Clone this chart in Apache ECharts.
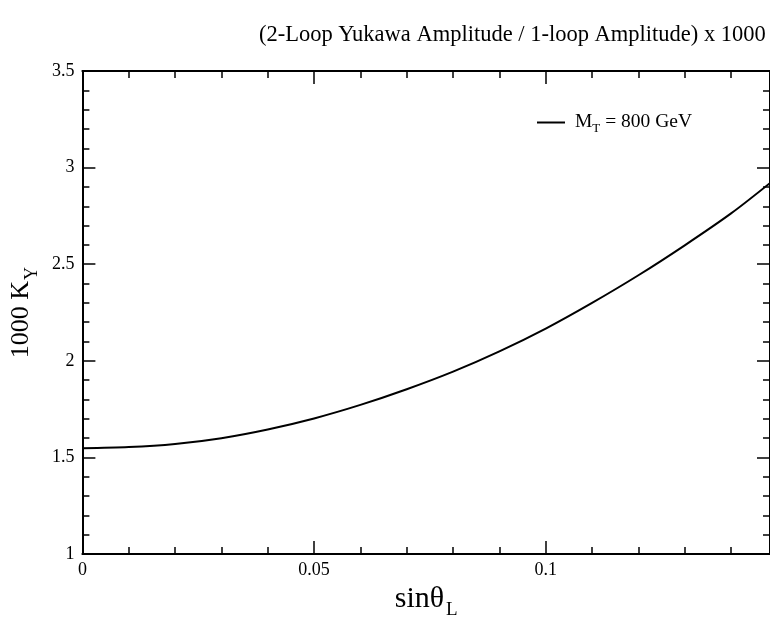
<!DOCTYPE html>
<html>
<head>
<meta charset="utf-8">
<script src="https://cdn.jsdelivr.net/npm/echarts@6/dist/echarts.min.js"></script>
<style>html,body{margin:0;padding:0;background:#fff}#c{width:770px;height:625px}</style>
</head>
<body>
<div id="c"></div>
<script>
// ---- data ----
const xValues = [0, 0.01, 0.02, 0.03, 0.04, 0.05, 0.06, 0.07, 0.08, 0.09, 0.10, 0.11, 0.12, 0.13, 0.14, 0.1485];
const yValues = [1.548, 1.554, 1.570, 1.600, 1.645, 1.702, 1.772, 1.853, 1.944, 2.049, 2.167, 2.300, 2.443, 2.598, 2.763, 2.922];
const xTickLabels = [0, 0.05, 0.1];
const yTickLabels = [1, 1.5, 2, 2.5, 3, 3.5];
const titleText = '(2-Loop Yukawa Amplitude / 1-loop Amplitude) x 1000';
const seriesName = 'MT800';

const XMIN = 0, XMAX = 0.1484, YMIN = 1, YMAX = 3.5;
const FONT = '"Liberation Serif", "DejaVu Serif", serif';

const chart = echarts.init(document.getElementById('c'), null, {renderer: 'canvas'});

function fmt(list) {
  return v => { const t = list.find(k => Math.abs(k - v) < 1e-9); return t === undefined ? '' : String(t); };
}

function xAx(pos, major, labels, name) {
  const a = {
    type: 'value', gridIndex: 0, position: pos, min: XMIN, max: XMAX,
    interval: major ? 0.05 : 0.01,
    axisLine: {show: major, onZero: false, lineStyle: {color: '#000', width: 2}},
    axisTick: {show: true, inside: true, length: major ? 13 : 7, lineStyle: {color: '#000', width: 1.5}},
    axisLabel: {show: labels, color: '#000', fontFamily: FONT, fontSize: 18, margin: 7, showMaxLabel: false,
      formatter: fmt(xTickLabels)},
    splitLine: {show: false}
  };
  if (name) {
    a.name = '{a|sin\u03b8}{s|L}';
    a.nameLocation = 'middle';
    a.nameGap = 29;
    a.nameTextStyle = {rich: {
      a: {fontFamily: FONT, fontSize: 30, color: '#000', lineHeight: 32, verticalAlign: 'top'},
      s: {fontFamily: FONT, fontSize: 19, color: '#000', lineHeight: 20, padding: [17, 0, 0, 2], verticalAlign: 'top'}
    }};
  }
  return a;
}

function yAx(pos, major, labels, name) {
  const a = {
    type: 'value', gridIndex: 0, position: pos, min: YMIN, max: YMAX,
    interval: major ? 0.5 : 0.1,
    axisLine: {show: major, onZero: false, lineStyle: {color: '#000', width: 2}},
    axisTick: {show: true, inside: true, length: major ? 13 : 7, lineStyle: {color: '#000', width: 1.5}},
    axisLabel: {show: labels, color: '#000', fontFamily: FONT, fontSize: 18, margin: 8,
      formatter: fmt(yTickLabels)},
    splitLine: {show: false}
  };
  if (name) {
    a.name = '{a|1000 K}{s|Y}';
    a.nameLocation = 'middle';
    a.nameRotate = 90;
    a.nameGap = 42;
    a.nameTextStyle = {rich: {
      a: {fontFamily: FONT, fontSize: 26, color: '#000', lineHeight: 30, verticalAlign: 'top'},
      s: {fontFamily: FONT, fontSize: 18, color: '#000', lineHeight: 20, padding: [15, 0, 0, 1], verticalAlign: 'top'}
    }};
  }
  return a;
}

const option = {
  backgroundColor: '#fff',
  animation: false,
  title: {
    text: titleText, left: 254, top: 19,
    textStyle: {fontFamily: FONT, fontSize: 22.5, fontWeight: 'normal', color: '#000'}
  },
  grid: {left: 80, top: 71, width: 691, height: 484},
  legend: {
    left: 537, top: 111.5, padding: 0, itemWidth: 28, itemHeight: 2, itemGap: 10,
    icon: 'rect',
    data: [{name: seriesName}],
    formatter: () => '{m|M}{s|T}{a| = 800 GeV}',
    textStyle: {rich: {
      m: {fontFamily: FONT, fontSize: 19.5, color: '#000', lineHeight: 22, padding: [0, 0, 0, 5], verticalAlign: 'top'},
      a: {fontFamily: FONT, fontSize: 19.5, color: '#000', lineHeight: 22, verticalAlign: 'top'},
      s: {fontFamily: FONT, fontSize: 13, color: '#000', lineHeight: 15, padding: [11, 0, 0, 0], verticalAlign: 'top'}
    }}
  },
  xAxis: [xAx('bottom', true, true, true), xAx('bottom', false, false, false), xAx('top', true, false, false), xAx('top', false, false, false)],
  yAxis: [yAx('left', true, true, true), yAx('left', false, false, false), yAx('right', true, false, false), yAx('right', false, false, false)],
  series: [{
    name: seriesName, type: 'line', xAxisIndex: 0, yAxisIndex: 0,
    data: xValues.map((x, i) => [x, yValues[i]]),
    symbol: 'none', smooth: 0.3,
    lineStyle: {color: '#000', width: 2}, itemStyle: {color: '#000'}
  }]
};
chart.setOption(option);
</script>
</body>
</html>
